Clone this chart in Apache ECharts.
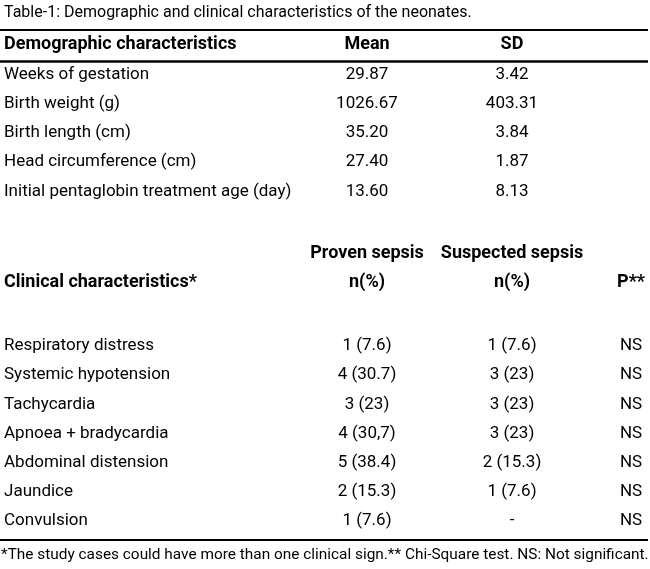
<!DOCTYPE html>
<html>
<head>
<meta charset="utf-8">
<title>Table-1: Demographic and clinical characteristics of the neonates</title>
<script src="https://cdn.jsdelivr.net/npm/echarts@6/dist/echarts.min.js"></script>
<style>
  html, body { margin: 0; padding: 0; background: #fff; }
  #chart { width: 650px; height: 569px; }
</style>
</head>
<body>
<div id="chart"></div>
<script>
/* =========================================
   1. TABLE DATA
   ========================================= */
const tableTitle = "Table-1: Demographic and clinical characteristics of the neonates.";
const footnote = "*The study cases could have more than one clinical sign.** Chi-Square test. NS: Not significant.";

const demoHeader = ["Demographic characteristics", "Mean", "SD"];
const demoRows = [
  "Weeks of gestation",
  "Birth weight (g)",
  "Birth length (cm)",
  "Head circumference (cm)",
  "Initial pentaglobin treatment age (day)",
];
const demoMean = [29.87, 1026.67, 35.2, 27.4, 13.6];
const demoSD = [3.42, 403.31, 3.84, 1.87, 8.13];

const clinHeaderTop = ["", "Proven sepsis", "Suspected sepsis", ""];
const clinHeader = ["Clinical characteristics*", "n(%)", "n(%)", "P**"];
const clinRows = [
  "Respiratory distress",
  "Systemic hypotension",
  "Tachycardia",
  "Apnoea + bradycardia",
  "Abdominal distension",
  "Jaundice",
  "Convulsion",
];
const provenN = [1, 4, 3, 4, 5, 2, 1];
const provenPct = ["7.6", "30.7", "23", "30,7", "38.4", "15.3", "7.6"];
const suspectedN = [1, 3, 3, 3, 2, 1, null];
const suspectedPct = ["7.6", "23", "23", "23", "15.3", "7.6", null];
const pValues = ["NS", "NS", "NS", "NS", "NS", "NS", "NS"];

/* =========================================
   2. LAYOUT
   ========================================= */
const FONT = 'Roboto, "Liberation Sans", sans-serif';
const INK = "#000";
const BODY_SIZE = 17;
const HEAD_SIZE = 18;
const W = 650;
const colLeft = 4;      // first column, left aligned
const colA = 367;       // Mean / Proven sepsis
const colB = 512;       // SD / Suspected sepsis
const colP = 631;       // P**
const rowH = 29.2;

const demoTop = 74.5 - rowH / 2;
const clinTop = 346 - rowH / 2;

function cellSeries(gridIndex, rows, x, texts, align) {
  return {
    type: "scatter",
    xAxisIndex: gridIndex,
    yAxisIndex: gridIndex,
    symbolSize: 0,
    silent: true,
    itemStyle: { opacity: 1 },
    data: rows.map((r, i) => ({ value: [x, r], text: texts[i] })),
    label: {
      show: true,
      position: align === "left" ? "right" : "inside",
      distance: 0,
      formatter: (p) => p.data.text,
      color: INK,
      opacity: 1,
      fontFamily: FONT,
      fontSize: BODY_SIZE,
    },
  };
}

function headText(text, x, y, align, bold, size) {
  return {
    type: "text",
    silent: true,
    style: {
      text: text,
      x: x,
      y: y,
      fill: INK,
      font: (bold ? "bold " : "") + (size || HEAD_SIZE) + "px " + FONT,
      textAlign: align,
      textVerticalAlign: "middle",
    },
  };
}

function rule(y, width) {
  return {
    type: "line",
    silent: true,
    shape: { x1: 0, y1: y, x2: W - 2, y2: y },
    style: { stroke: INK, lineWidth: width },
  };
}

/* =========================================
   3. CHART
   ========================================= */
function initTable() {
  const chart = echarts.init(document.getElementById("chart"));

  const fmt2 = (v) => v.toFixed(2);
  const provenTxt = provenN.map((n, i) => n + " (" + provenPct[i] + ")");
  const suspectedTxt = suspectedN.map((n, i) => (n === null ? "-" : n + " (" + suspectedPct[i] + ")"));

  const hiddenX = (gi) => ({ type: "value", gridIndex: gi, min: 0, max: W, show: false });
  const hiddenY = (gi, rows) => ({ type: "category", gridIndex: gi, data: rows, inverse: true, show: false });

  const option = {
    backgroundColor: "#fff",
    animation: false,
    grid: [
      { left: 0, right: 0, top: demoTop, height: rowH * demoRows.length },
      { left: 0, right: 0, top: clinTop, height: rowH * clinRows.length },
    ],
    xAxis: [hiddenX(0), hiddenX(1)],
    yAxis: [hiddenY(0, demoRows), hiddenY(1, clinRows)],
    series: [
      cellSeries(0, demoRows, colLeft, demoRows, "left"),
      cellSeries(0, demoRows, colA, demoMean.map(fmt2), "center"),
      cellSeries(0, demoRows, colB, demoSD.map(fmt2), "center"),
      cellSeries(1, clinRows, colLeft, clinRows, "left"),
      cellSeries(1, clinRows, colA, provenTxt, "center"),
      cellSeries(1, clinRows, colB, suspectedTxt, "center"),
      cellSeries(1, clinRows, colP, pValues, "center"),
    ],
    graphic: [
      headText(tableTitle, colLeft, 13, "left", false, 16),
      rule(30, 2),
      headText(demoHeader[0], colLeft, 44, "left", true),
      headText(demoHeader[1], colA, 44, "center", true),
      headText(demoHeader[2], colB, 44, "center", true),
      rule(61.5, 2.5),
      headText(clinHeaderTop[1], colA, 253, "center", true),
      headText(clinHeaderTop[2], colB, 253, "center", true),
      headText(clinHeader[0], colLeft, 282, "left", true),
      headText(clinHeader[1], colA, 282, "center", true),
      headText(clinHeader[2], colB, 282, "center", true),
      headText(clinHeader[3], colP, 282, "center", true),
      rule(540, 2),
      headText(footnote, 1, 555, "left", false, 15.4),
    ],
  };

  chart.setOption(option);
}

document.addEventListener("DOMContentLoaded", initTable);
</script>
</body>
</html>
